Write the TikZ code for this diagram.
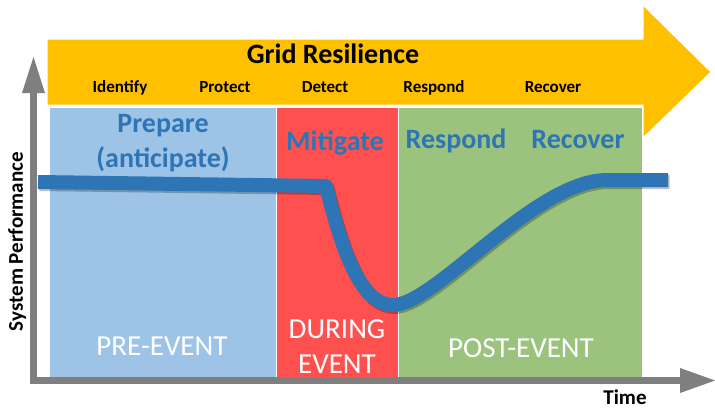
\documentclass[tikz,border=0pt]{standalone}
\usepackage{fontspec}
\setmainfont{Carlito}
\definecolor{arrowyellow}{HTML}{FFC000}
\definecolor{panelblue}{HTML}{9DC3E6}
\definecolor{panelred}{HTML}{FF5050}
\definecolor{panelgreen}{HTML}{9BC37D}
\definecolor{axisgray}{HTML}{7F7F7F}
\definecolor{curveblue}{HTML}{2E75B6}
\begin{document}
\begin{tikzpicture}[x=1pt,y=-1pt,
  steplabel/.style={font=\fontsize{17}{20}\selectfont\bfseries, anchor=base, inner sep=0},
  phaselabel/.style={font=\fontsize{28}{30}\selectfont\bfseries, text=curveblue, anchor=base, inner sep=0},
  eventlabel/.style={font=\fontsize{29}{31}\selectfont, text=white, anchor=base, inner sep=0},
  axislabel/.style={font=\fontsize{21}{24}\selectfont\bfseries, anchor=base, inner sep=0},
  panel/.style={draw=white, line width=0.8pt},
  curve/.style={line width=14pt, draw=curveblue, line cap=butt, line join=round}]
\useasboundingbox (0,0) rectangle (715,408);
% big yellow arrow
\fill[arrowyellow, draw=white, line width=1pt] (47,39) -- (643,39) -- (643,5) -- (711,72) -- (643,138) -- (643,105) -- (47,105) -- cycle;
% panels
\fill[panelblue, panel] (49,107) rectangle (276,377);
\fill[panelred, panel] (276,107) rectangle (398,377);
\fill[panelgreen, panel] (398,107) rectangle (642,377);
% axes
\fill[axisgray] (30,93) rectangle (37,384);
\fill[axisgray] (22,93) -- (45,93) -- (33.5,57) -- cycle;
\fill[axisgray] (30,377) rectangle (680,384);
\fill[axisgray] (680,368) -- (680,393) -- (715,380.5) -- cycle;
% texts in arrow
\node[font=\fontsize{28}{30}\selectfont\bfseries, anchor=base, inner sep=0] (title) at (333,63) {Grid Resilience};
\node[steplabel] (identify) at (120,92) {Identify};
\node[steplabel] (protect) at (225,92) {Protect};
\node[steplabel] (detect) at (325,92) {Detect};
\node[steplabel] (respondtop) at (434,92) {Respond};
\node[steplabel] (recovertop) at (553,92) {Recover};
% phase labels
\node[phaselabel] (prepare) at (163,132) {Prepare};
\node[phaselabel] (anticipate) at (163,167) {(anticipate)};
\node[phaselabel] (mitigate) at (335,150) {Mitigate};
\node[phaselabel] (respond) at (456,148) {Respond};
\node[phaselabel] (recover) at (578,148) {Recover};
% curve shadow and curve
\draw[curve, draw=black, opacity=0.25, shift={(1.5,2)}] (38,182) -- (326,186) .. controls (343,255) and (362,305) .. (393,305) .. controls (435,305) and (535,180) .. (607,180) -- (668,180);
\draw[curve] (38,182) -- (326,186) .. controls (343,255) and (362,305) .. (393,305) .. controls (435,305) and (535,180) .. (607,180) -- (668,180);
% event labels
\node[eventlabel] (pre) at (162,355) {PRE-EVENT};
\node[eventlabel] (during) at (337,338) {DURING};
\node[eventlabel] (duringevent) at (337,373) {EVENT};
\node[eventlabel] (post) at (521,357) {POST-EVENT};
% axis labels
\node[axislabel, rotate=90] (perf) at (23,241.5) {System Performance};
\node[axislabel] (time) at (625,404) {Time};
\end{tikzpicture}
\end{document}
